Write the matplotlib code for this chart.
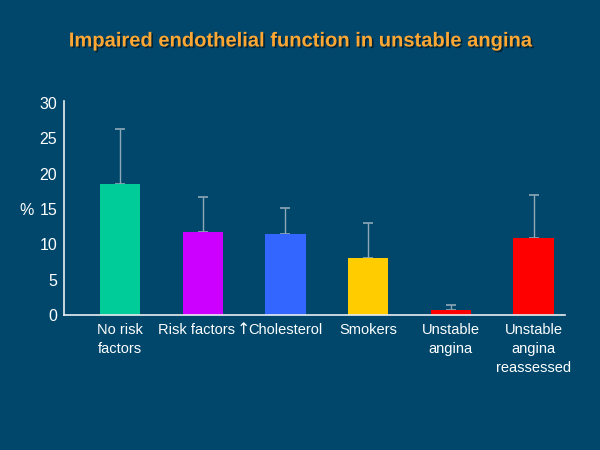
import matplotlib.pyplot as plt
import matplotlib.patheffects as pe
from matplotlib.transforms import ScaledTranslation
import numpy as np

categories = ["No risk\nfactors", "Risk factors", "Cholesterol", "Smokers",
              "Unstable\nangina", "Unstable\nangina\nreassessed"]
values = [18.5, 11.8, 11.4, 8.0, 0.7, 10.9]
errors = [7.8, 4.9, 3.8, 5.0, 0.75, 6.1]
colors = ["#00CC99", "#CC00FF", "#3366FF", "#FFCC00", "#FF0000", "#FF0000"]
yticks = [0, 5, 10, 15, 20, 25, 30]

bg = "#00476B"
fig = plt.figure(figsize=(6, 4.5), dpi=100)
fig.patch.set_facecolor(bg)
ax = fig.add_axes([0.107, 0.3, 0.835, 0.476])
ax.set_facecolor(bg)

x = np.arange(len(categories))
ax.bar(x, values, width=0.49, color=colors, zorder=2)
ax.errorbar(x, values, yerr=[np.zeros(len(errors)), errors], fmt="none",
            ecolor="#8FA8B8", elinewidth=1, capsize=3.6, capthick=1.2, zorder=1)

ax.set_xlim(-0.676, 5.383)
ax.set_ylim(0, 30.3)
ax.set_yticks(yticks)
ax.set_xticks(x)
ax.set_xticklabels(categories, family="Liberation Sans",
                   fontsize=10.5, color="white", linespacing=1.45)
for lab in ax.get_yticklabels():
    lab.set_family("Liberation Sans")
ax.tick_params(axis="y", colors="white", labelsize=11.5, length=0, pad=5)
ax.tick_params(axis="x", length=0, pad=6)

# "Risk factors" sits a little left of its bar in the original
risk_label = ax.get_xticklabels()[1]
risk_label.set_transform(risk_label.get_transform()
                         + ScaledTranslation(-4.5 / 72, 0, fig.dpi_scale_trans))

# the "increased" arrow in front of Cholesterol
chol_label = ax.get_xticklabels()[2]
ax.annotate("\u2191", xy=(0, 0.5), xycoords=chol_label, xytext=(1, 0.5),
            textcoords="offset points", ha="right", va="center",
            family="DejaVu Sans", fontsize=11.5, color="white")

for side in ["top", "right"]:
    ax.spines[side].set_visible(False)
for side in ["left", "bottom"]:
    ax.spines[side].set_color("#E8EEF2")
    ax.spines[side].set_linewidth(1.2)

fig.text(0.045, 0.533, "%", color="white", fontsize=11.5, family="Liberation Sans",
         ha="center", va="center")

title = "Impaired endothelial function in unstable angina"
fig.text(0.5, 0.909, title, color="#FFA733", fontsize=14.5, fontweight="bold",
         family="Liberation Sans", ha="center", va="center",
         path_effects=[pe.withSimplePatchShadow(offset=(1.2, -1.2),
                                                shadow_rgbFace="black", alpha=0.5)])

fig.savefig("out.png", facecolor=bg)
